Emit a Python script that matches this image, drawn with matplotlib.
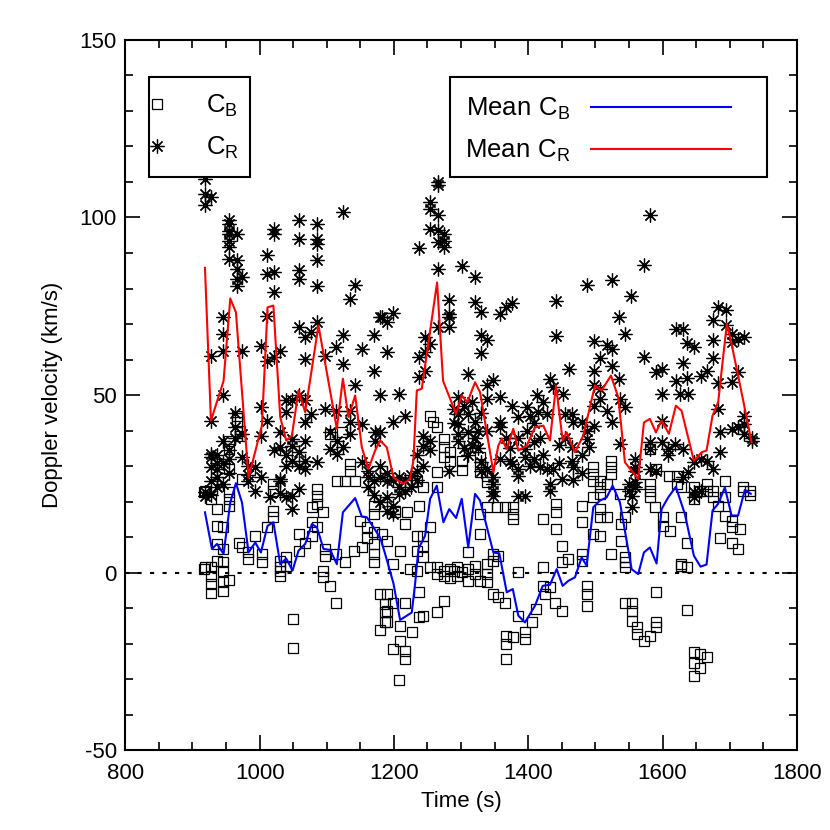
import matplotlib
matplotlib.use("Agg")
import matplotlib.pyplot as plt
import numpy as np
from matplotlib.lines import Line2D
from matplotlib.patches import Rectangle
from matplotlib.ticker import MultipleLocator

plt.rcParams['font.family'] = ['Liberation Sans', 'DejaVu Sans']
plt.rcParams['mathtext.fontset'] = 'custom'
plt.rcParams['mathtext.rm'] = 'Liberation Sans'
plt.rcParams['axes.unicode_minus'] = False

# mean curves (time in s, velocity in km/s)
mean_t = [918.6, 927.5, 946.3, 956.3, 964.7, 983.5, 1003.4, 1011.8, 1020.5, 1030.7,
          1039.6, 1048.1, 1057.9, 1067.9, 1087.6, 1115, 1124, 1132.3, 1142.3, 1152.2,
          1162, 1172, 1179.5, 1189.4, 1199.3, 1214.1, 1224.1, 1229, 1234.1, 1241.5,
          1264.3, 1273.2, 1292.6, 1301, 1309.4, 1320.8, 1328.3, 1348.1, 1355.5, 1360.6,
          1368, 1377.8, 1385.3, 1397.8, 1410.1, 1422.5, 1432.4, 1441.4, 1451.3, 1457.3,
          1469.6, 1482, 1499.4, 1509.4, 1523.2, 1534.1, 1544, 1554, 1563.8, 1572.3,
          1581.2, 1590.2, 1598.6, 1609.5, 1619.9, 1628.4, 1646.7, 1658.2, 1665.6, 1674.5,
          1682.9, 1695.8, 1703.3, 1720.1, 1732.6]
mean_cr = [85.8, 42.8, 54, 77.2, 73.3, 26.8, 41.4, 74.7, 75.2, 43.8,
           37.2, 38.6, 51.3, 45.2, 69.6, 40.5, 54.6, 43.8, 49.9, 35.3,
           29.2, 34.4, 37.2, 35.3, 26.8, 25, 26.5, 31.5, 51.3, 51.8,
           81.7, 54, 44.7, 49.9, 48, 53.6, 50.8, 28.3, 35.8, 37.7,
           34.8, 40.5, 34.4, 35.8, 40.9, 41.4, 37.2, 52.7, 37.2, 39.5,
           33.9, 38.6, 52.7, 51.3, 55.5, 49.4, 31.1, 28.7, 26.4, 42.3,
           43.3, 39.5, 42.8, 39.1, 47, 45.6, 31.5, 33.9, 34.4, 44.2,
           48, 70.1, 64, 48.5, 36.7]

mean_tb = [918.6, 929, 936.5, 946.3, 956.3, 964.7, 973.7, 983.5, 993.5, 1001.9,
           1011.8, 1020.5, 1030.7, 1039.6, 1049, 1057.9, 1067.9, 1077.8, 1085.3, 1095.1,
           1105.1, 1115, 1124, 1142.3, 1152.2, 1159.7, 1179.5, 1186.9, 1199.3, 1209.2,
           1226.6, 1231.5, 1236.5, 1246.4, 1253.9, 1263.8, 1273.7, 1282.4, 1292.6, 1301,
           1310.7, 1320.8, 1328.3, 1348.1, 1357, 1368, 1377, 1385.3, 1395.2, 1410.1,
           1421.6, 1432.4, 1442.4, 1451.3, 1459.7, 1469.6, 1479.6, 1487, 1496.9, 1506.8,
           1516.8, 1525.7, 1536.6, 1554, 1563.8, 1572.3, 1581.2, 1591.2, 1598.6, 1608.5,
           1619.9, 1633.3, 1646.7, 1656.6, 1665.6, 1674.5, 1682.9, 1692.9, 1702.8, 1712.6,
           1722.6, 1731.5]
mean_cb = [17, 6.7, 8.1, 5.3, 19.8, 25.2, 19.8, 5.7, 8.5, 5.7,
           13.2, 14.2, 2.4, 4.0, 0.6, 6.2, 8.1, 13.7, 12.8, 6.7,
           6.4, 2.4, 17, 21, 15.8, 15.6, 9.9, 5.3, -3, -13.3,
           -11.2, -3.2, 6.7, 10.4, 20.8, 24.5, 14.2, 17.9, 15.4, 20.8,
           7.1, 22.2, 20.3, 5.7, 5.4, -5.5, -4.6, -12.1, -14, -9.3,
           -3.7, -3.4, 1.0, -3.7, -2.3, -1.3, 4.3, 2, 18.4, 20.3,
           21.2, 24.5, 19.8, 1.0, -0.4, 5.7, 7.1, 2.6, 17.9, 21.2,
           24.2, 16.5, 4.8, 1.7, 2.3, 17.5, 19.4, 24.0, 16.1, 16.1,
           23.3, 22.2]

# C_R samples: (time, velocities)
cr_cols = [
    (919, [110.9, 106.7, 103.4, 22.6, 21.5]),
    (927, [105.7, 61.1, 42.8, 32.5, 29.7, 25.9, 22.0, 33.5]),
    (937, [29.2, 33.0, 27.0, 24.0, 31.0]),
    (946, [71.9, 67.2, 62.5, 49.9, 37.2, 31.0, 25.0]),
    (955, [99.2, 98.2, 96.3, 95.4, 93.5, 91.6, 88.3, 34.4, 32.0, 28.0]),
    (964, [40.9, 45.0, 38.0]),
    (966, [95.4, 87.9, 85.5, 82.7, 80.8]),
    (974, [83.2, 62.5, 32.5, 39.1]),
    (983, [25.9, 30.0, 27.5]),
    (993, [23.1, 29.7]),
    (1002, [63.9, 46.6, 38.6, 26.8]),
    (1011, [89.3, 84.2, 72.4, 59.7, 42.8]),
    (1016, [21.2]),
    (1021, [96.8, 95.4, 84.6, 79.0, 60.7, 34.4]),
    (1031, [62.5, 39.5, 35.3, 25.9, 26.4, 22.5]),
    (1039, [45.2, 48.5, 30.1, 33.0, 21.2]),
    (1048, [48.5, 35.8, 37.7, 31.5, 21.7, 18.0]),
    (1058, [99.2, 94.0, 85.1, 82.7, 69.1, 33.9, 30.1, 23.6, 50.0]),
    (1068, [66.3, 60.2, 48.5, 42.3, 37.2, 31.5, 29.2]),
    (1077, [67.7, 44.7]),
    (1086, [98.2, 94.0, 92.6, 87.9, 80.6, 70.5, 31.1]),
    (1098, [61.1, 46.0]),
    (1105, [39.5, 34.8]),
    (1113, [45.6, 63.6]),
    (1115, [37.2, 33.4]),
    (1124, [101.5, 66.8, 58.8, 35.3]),
    (1134, [77.1, 45.6, 42.3, 39.1]),
    (1142, [81.0, 52.7]),
    (1152, [63.0, 41.9, 31.1]),
    (1162, [28.7, 26.8, 24.0]),
    (1170, [66.8, 56.9, 25.9, 22.0]),
    (1172, [39.5, 37.2]),
    (1180, [71.9, 49.9, 39.5, 30.1, 27.0, 20.0]),
    (1182, [71.9]),
    (1189, [70.5, 62.1, 25.9, 21.2, 17.5, 28.0]),
    (1199, [73.1, 42.3, 18.9, 16.5, 26.0]),
    (1207, [50.3, 24.0, 22.2, 27.0]),
    (1217, [44.2, 23.1, 26.0]),
    (1226, [24.0, 27.5]),
    (1234, [33.0, 28.7, 26.0]),
    (1237, [91.4, 60.7, 55.0]),
    (1244, [35.8, 38.6, 30.0]),
    (1246, [66.3, 62.1, 56.9]),
    (1254, [104.3, 102.4, 96.8, 64.4, 34.4, 37.2]),
    (1265, [109.9, 109.0, 100.6, 96.5, 93.0, 85.5, 69.1]),
    (1274, [95.4, 93.5, 91.8]),
    (1282, [76.8, 72.9, 72.0, 69.1, 28.7]),
    (1290, [42.0, 46.0]),
    (1295, [49.4, 44.7, 41.9, 39.1, 37.2]),
    (1302, [86.3]),
    (1305, [47.0, 35.0]),
    (1311, [55.8, 39.5, 44.7, 33.0]),
    (1316, [36.0, 48.0]),
    (1321, [83.2, 76.3, 42.3, 38.0]),
    (1325, [40.0, 35.0]),
    (1330, [73.3, 66.8, 61.9, 31.1, 28.7, 45.0]),
    (1338, [65.4, 52.7, 48.9, 29.2, 40.0]),
    (1348, [54.3, 26.8, 25.0, 23.1, 21.7]),
    (1358, [72.9, 49.4, 42.3, 40.9, 32.0]),
    (1367, [74.7, 38.0]),
    (1373, [31.5, 35.0]),
    (1376, [75.9, 47.0, 30.6]),
    (1385, [43.8, 29.2, 27.3, 21.7, 38.0]),
    (1395, [32.5, 34.8, 21.7]),
    (1398, [46.6, 40.0]),
    (1403, [44.0, 30.0]),
    (1408, [32.0, 36.7, 42.0]),
    (1413, [49.9]),
    (1415, [45.2]),
    (1418, [29.7, 38.0]),
    (1422, [33.0, 48.0]),
    (1428, [44.7, 29.2]),
    (1432, [54.6, 25.0, 23.1]),
    (1437, [52.2, 29.2]),
    (1441, [76.6, 66.6]),
    (1446, [36.0, 31.0]),
    (1450, [26.4]),
    (1452, [50.3]),
    (1455, [44.7, 38.0]),
    (1460, [57.4]),
    (1465, [35.3, 31.5, 44.7]),
    (1467, [42.3, 29.7, 26.0]),
    (1480, [42.3, 33.0, 28.0]),
    (1487, [81.1, 40.0, 37.7]),
    (1490, [35.3]),
    (1498, [65.1, 56.9, 41.4, 52.7, 47.0]),
    (1507, [60.4, 51.7, 48.9]),
    (1517, [64.2, 45.6]),
    (1525, [82.3, 63.0, 58.3, 42.3]),
    (1535, [71.9, 54.6]),
    (1537, [48.9, 36.3]),
    (1544, [67.2, 46.6]),
    (1550, [23.1, 25.0]),
    (1553, [78.0]),
    (1555, [21.7, 18.4]),
    (1559, [32.0, 29.7, 28.7, 25.4, 24.0]),
    (1572, [86.7, 60.8]),
    (1581, [100.6, 36.7, 34.8, 29.2]),
    (1590, [56.6, 28.7]),
    (1599, [50.3, 42.8, 36.7, 57.4]),
    (1608, [34.8, 33.0]),
    (1618, [36.3]),
    (1620, [68.6, 54.1]),
    (1626, [50.3]),
    (1630, [68.6, 59.0, 34.8, 26.8]),
    (1637, [64.6, 54.8]),
    (1638, [50.3, 28.3]),
    (1647, [63.5, 31.1, 22.6, 21.2]),
    (1657, [55.5, 32.0, 23.1]),
    (1666, [56.9, 31.5]),
    (1675, [71.0, 65.6, 60.4, 29.2]),
    (1683, [74.9, 53.3, 46.1]),
    (1685, [39.5, 33.9]),
    (1694, [74.0, 69.6]),
    (1703, [67.2, 65.0, 53.6, 40.5]),
    (1712, [65.8, 56.4, 40.9]),
    (1721, [66.3, 44.2, 41.9, 39.1]),
    (1733, [37.2, 38.0]),
]

# C_B samples: (time, velocities)
cb_cols = [
    (917, [1.0, 22.6]),
    (919, [23.1, 1.5]),
    (927, [20.8, 1.5, -0.8, -3.2, -5.7]),
    (937, [17.9, 13.2, 3.4, 8.0]),
    (946, [12.8, 6.7, 2.9, 0.6, -2.7, -5.1]),
    (955, [37.2, 34.8, 29.2, 22.6, 20.8, 18.9, -2.1]),
    (966, [44.2, 42.3]),
    (969, [8.5]),
    (971, [40.0, 38.6]),
    (974, [26.4, 7.1]),
    (983, [5.7, 3.9]),
    (993, [10.4]),
    (1003, [5.3, 3.0]),
    (1011, [12.8]),
    (1020, [25.0, 23.1, 17.5, 15.6]),
    (1030, [3.4, 1.5, 0.6, -0.8]),
    (1040, [4.3, 2.0]),
    (1049, [-13.0, -21.2]),
    (1058, [10.9, 6.2]),
    (1068, [8.5]),
    (1078, [18.4, 14.2, 10.4]),
    (1085, [23.6, 21.7, 19.4, 12.8]),
    (1095, [17.0, -1.3, 0.6]),
    (1098, [6.7, 4.8]),
    (1105, [39.1, -3.7]),
    (1113, [5.3]),
    (1114, [-8.4]),
    (1115, [25.9]),
    (1122, [39.5]),
    (1127, [25.9, 2.9]),
    (1134, [30.6, 28.7]),
    (1140, [6.2]),
    (1142, [25.9]),
    (1150, [14.6]),
    (1152, [7.1]),
    (1160, [12.8, 9.9]),
    (1170, [18.9, 16.5, 11.4, 8.1, 5.3, 2.9]),
    (1180, [-6.0, -16.2]),
    (1182, [10.9]),
    (1187, [-8.8, -11.2, -14.0]),
    (1189, [9.0, -6.0, -10.7, -14.0]),
    (1199, [2.4, -8.4, -21.5]),
    (1202, [17.0]),
    (1208, [-30.2]),
    (1209, [6.2, -14.9, -19.2]),
    (1217, [13.7, -8.4, -22.0, -24.3]),
    (1219, [17.0]),
    (1224, [1.0]),
    (1227, [-16.8]),
    (1234, [25.9, 10.4, 6.2, 0.6]),
    (1237, [18.9, -5.5, -12.6]),
    (1244, [24.0, 10.4, 7.6, 4.3, -12.1]),
    (1254, [44.2, 12.8, 1.5]),
    (1258, [42.3]),
    (1264, [40.9, 28.3, 24.0, 1.5, -0.4, -11.2]),
    (1274, [37.7, 35.3, 32.5, 0.5, -0.8, -7.9]),
    (1284, [33.9, 31.5, 1.0, -1.5]),
    (1289, [0.6]),
    (1294, [1.5, -1.0]),
    (1301, [31.5, 29.0, 0.2]),
    (1311, [5.7, 1.0, -2.3]),
    (1321, [35.3, 2.0, -0.5]),
    (1328, [32.5, 30.6, 28.3, 16.5, 10.9, -2.3]),
    (1338, [27.3, 25.4, 18.4, 2.5, -0.4, -2.5]),
    (1348, [5.3, 3.4, -6.0]),
    (1353, [18.4]),
    (1355, [4.8, -6.9]),
    (1366, [18.4, -8.4]),
    (1367, [-17.7, -20.1, -24.3]),
    (1377, [18.4, 16.5, 15.1, -18.2]),
    (1385, [-12.1, 0.1]),
    (1395, [-16.8, -18.7]),
    (1405, [-14.0]),
    (1412, [-10.2]),
    (1422, [15.1, 1.5, -3.7]),
    (1425, [-6.0]),
    (1432, [-4.1]),
    (1440, [-8.4]),
    (1441, [19.4, 17.0, 12.3]),
    (1450, [-10.7]),
    (1451, [7.6, 2.9]),
    (1459, [3.9]),
    (1480, [18.9, 14.2, 5.3, 3.4]),
    (1487, [-3.7, -6.0, -9.3]),
    (1497, [29.7, 27.8, 25.9, 21.2, 10.9]),
    (1507, [25.9, 24.0, 22.2, 17.9, 15.6, 10.4]),
    (1517, [25.0, 15.6]),
    (1524, [31.5, 29.7, 27.8, 5.3]),
    (1536, [22.2]),
    (1538, [13.7, 9.0]),
    (1544, [15.6, 4.3, 2.9, 1.5, -8.4]),
    (1554, [-8.4, -10.7, -13.5]),
    (1562, [-15.4, -17.3]),
    (1566, [25.0]),
    (1572, [-19.2]),
    (1581, [34.8, 25.0, 23.1, 21.2, -17.7]),
    (1589, [18.4]),
    (1591, [29.2, -5.5, -14.0, -15.4]),
    (1601, [15.6, 13.2]),
    (1609, [27.3]),
    (1611, [11.8]),
    (1621, [27.3, 25.0]),
    (1628, [24.0, 15.6, 2.4, 2.0]),
    (1636, [8.5, 1.5, -10.4]),
    (1647, [20.8, 24.0, -22.4, -25.3, -29.0]),
    (1656, [23.1, -22.9, -26.7]),
    (1666, [25.0, 23.1, -23.8]),
    (1675, [23.1, 21.2]),
    (1683, [18.9]),
    (1685, [9.9]),
    (1693, [25.9, 21.2, 16.1]),
    (1703, [14.6, 12.8, 8.5]),
    (1713, [6.7]),
    (1715, [12.3]),
    (1720, [24.0, 23.1]),
    (1730, [23.1, 22.0]),
]

cr_t = np.concatenate([[t] * len(v) for t, v in cr_cols])
cr_v = np.concatenate([v for t, v in cr_cols])
cb_t = np.concatenate([[t] * len(v) for t, v in cb_cols])
cb_v = np.concatenate([v for t, v in cb_cols])

sq_style = dict(linestyle='none', marker='s', markersize=7,
                markerfacecolor='none', markeredgecolor='black', markeredgewidth=0.9)
ast_style = dict(linestyle='none', marker=(8, 2, 0), markersize=10,
                 color='black', markeredgewidth=0.9)

fig = plt.figure(figsize=(8.3, 8.3), dpi=100)
ax = fig.add_axes([0.151, 0.096, 0.809, 0.856])

ax.axhline(0, color='black', linestyle=(0, (2, 4)), linewidth=1.5)
ax.plot(cb_t, cb_v, **sq_style)
ax.plot(cr_t, cr_v, **ast_style)
ax.plot(mean_tb, mean_cb, color='#0000ff', linewidth=1.5)
ax.plot(mean_t, mean_cr, color='#ff0000', linewidth=1.5)

ax.set_xlim(800, 1800)
ax.set_ylim(-50, 150)
ax.xaxis.set_major_locator(MultipleLocator(200))
ax.xaxis.set_minor_locator(MultipleLocator(50))
ax.yaxis.set_major_locator(MultipleLocator(50))
ax.yaxis.set_minor_locator(MultipleLocator(10))
ax.tick_params(which='both', direction='in', top=True, right=True, width=1.2,
               labelsize=16)
ax.tick_params(which='major', length=11)
ax.tick_params(which='minor', length=6)
ax.tick_params(axis='x', which='major', pad=9)
ax.tick_params(axis='y', which='major', pad=6)
for s in ax.spines.values():
    s.set_linewidth(1.5)

ax.set_xlabel('Time (s)', fontsize=16, labelpad=5)
ax.set_ylabel('Doppler velocity (km/s)', fontsize=16, labelpad=12)

# legend boxes
for x0, w in [(0.0357, 0.150), (0.4836, 0.472)]:
    ax.add_patch(Rectangle((x0, 0.807), w, 0.141, transform=ax.transAxes,
                           facecolor='white', edgecolor='black', linewidth=1.5,
                           zorder=4))

h1 = [Line2D([], [], **sq_style), Line2D([], [], **ast_style)]
leg1 = ax.legend(h1, [r'$\mathregular{C_B}$', r'$\mathregular{C_R}$'],
                 loc='upper left', bbox_to_anchor=(0.036, 0.925),
                 fontsize=18.5, frameon=False, borderpad=0, borderaxespad=0,
                 labelspacing=0.6, handlelength=0.6, handletextpad=1.6)
leg1.set_zorder(6)
ax.add_artist(leg1)

h2 = [Line2D([], [], color='#0000ff', linewidth=1.5),
      Line2D([], [], color='#ff0000', linewidth=1.5)]
leg2 = ax.legend(h2, [r'$\mathregular{Mean\ C_B}$', r'$\mathregular{Mean\ C_R}$'],
                 loc='upper left', bbox_to_anchor=(0.506, 0.921),
                 fontsize=18.5, frameon=False, borderpad=0, borderaxespad=0,
                 labelspacing=0.62, handlelength=5.45, handletextpad=0.8,
                 markerfirst=False)
leg2.set_zorder(6)

fig.savefig('out.png', dpi=100)
